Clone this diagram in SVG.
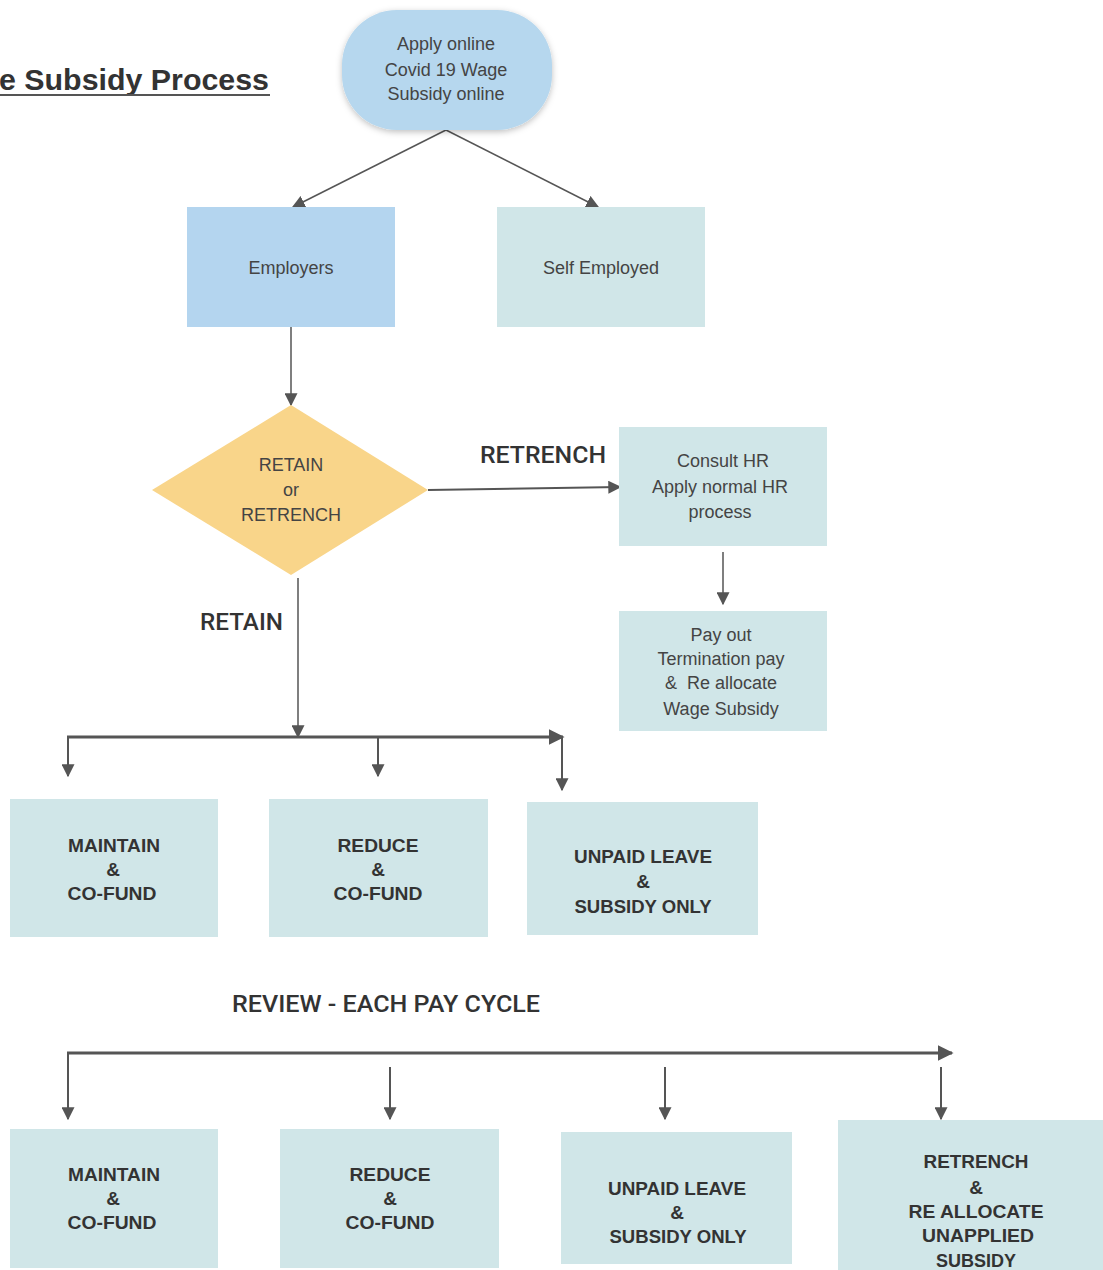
<svg xmlns="http://www.w3.org/2000/svg" width="1103" height="1270" viewBox="0 0 1103 1270">
<style>
.small{font-family:"Liberation Sans",Arial,sans-serif;font-size:18px;fill:#444;text-anchor:middle}
.bold{font-family:"Liberation Sans",Arial,sans-serif;font-size:19px;font-weight:bold;fill:#333;text-anchor:middle}
.lbl{font-family:Roboto,"Liberation Sans",sans-serif;font-size:24px;font-weight:500;fill:#333}
.blue{fill:#b4d5ef}
.teal{fill:#d0e6e8}
.ln{stroke:#555;fill:none}
</style>
<defs>
<marker id="ah" viewBox="0 0 10 10" refX="9" refY="5" markerWidth="13" markerHeight="13" markerUnits="userSpaceOnUse" orient="auto">
<path d="M0,0 L10,5 L0,10 z" fill="#555"/>
</marker>
<marker id="ahb" viewBox="0 0 10 10" refX="9" refY="5" markerWidth="16" markerHeight="16" markerUnits="userSpaceOnUse" orient="auto">
<path d="M0,0 L10,5 L0,10 z" fill="#555"/>
</marker>
<filter id="sh" x="-20%" y="-20%" width="140%" height="140%">
<feDropShadow dx="0" dy="2" stdDeviation="3" flood-color="#000" flood-opacity="0.25"/>
</filter>
</defs>

<g id="title">
<text x="-1" y="90" font-family="Liberation Sans,Arial,sans-serif" font-size="30" font-weight="bold" fill="#333" textLength="270" lengthAdjust="spacingAndGlyphs">e Subsidy Process</text>
<line x1="0" y1="95" x2="270" y2="95" stroke="#555" stroke-width="2"/>
</g>

<g id="connectors">
<line class="ln" stroke-width="1.5" x1="446" y1="130" x2="293" y2="207" marker-end="url(#ah)"/>
<line class="ln" stroke-width="1.5" x1="446" y1="130" x2="598" y2="207" marker-end="url(#ah)"/>
<line class="ln" stroke-width="1.5" x1="291" y1="327" x2="291" y2="405" marker-end="url(#ah)"/>
<line class="ln" stroke-width="2" x1="428" y1="490" x2="620" y2="487" marker-end="url(#ah)"/>
<line class="ln" stroke-width="1.5" x1="723" y1="552" x2="723" y2="604" marker-end="url(#ah)"/>
<line class="ln" stroke-width="1.5" x1="298" y1="578" x2="298" y2="737" marker-end="url(#ah)"/>
<line class="ln" stroke-width="3" x1="67" y1="737" x2="563" y2="737" marker-end="url(#ahb)"/>
<line class="ln" stroke-width="2" x1="68" y1="737" x2="68" y2="776" marker-end="url(#ah)"/>
<line class="ln" stroke-width="2" x1="378" y1="737" x2="378" y2="776" marker-end="url(#ah)"/>
<line class="ln" stroke-width="2" x1="562" y1="737" x2="562" y2="790" marker-end="url(#ah)"/>
<line class="ln" stroke-width="3" x1="67" y1="1053" x2="952" y2="1053" marker-end="url(#ahb)"/>
<line class="ln" stroke-width="2" x1="68" y1="1053" x2="68" y2="1119" marker-end="url(#ah)"/>
<line class="ln" stroke-width="2" x1="390" y1="1067" x2="390" y2="1119" marker-end="url(#ah)"/>
<line class="ln" stroke-width="2" x1="665" y1="1067" x2="665" y2="1119" marker-end="url(#ah)"/>
<line class="ln" stroke-width="2" x1="941" y1="1067" x2="941" y2="1119" marker-end="url(#ah)"/>
<text class="lbl" x="480" y="463" textLength="126" lengthAdjust="spacingAndGlyphs">RETRENCH</text>
<text class="lbl" x="200" y="630" textLength="83" lengthAdjust="spacingAndGlyphs">RETAIN</text>
<text class="lbl" x="232" y="1012" font-size="26" textLength="308" lengthAdjust="spacingAndGlyphs">REVIEW - EACH PAY CYCLE</text>
</g>

<g id="apply">
<rect x="342" y="10" width="210" height="120" rx="55" ry="55" fill="#b6d7ee" filter="url(#sh)"/>
<text class="small" x="446" y="50">Apply online</text>
<text class="small" x="446" y="76">Covid 19 Wage</text>
<text class="small" x="446" y="100">Subsidy online</text>
</g>

<g id="employers">
<rect class="blue" x="187" y="207" width="208" height="120"/>
<text class="small" x="291" y="274">Employers</text>
</g>

<g id="self-employed">
<rect class="teal" x="497" y="207" width="208" height="120"/>
<text class="small" x="601" y="274">Self Employed</text>
</g>

<g id="decision">
<polygon points="291,405 428,490 291,575 152,490" fill="#f9d58a"/>
<text class="small" x="291" y="471">RETAIN</text>
<text class="small" x="291" y="496">or</text>
<text class="small" x="291" y="521">RETRENCH</text>
</g>

<g id="consult-hr">
<rect class="teal" x="619" y="427" width="208" height="119"/>
<text class="small" x="723" y="467">Consult HR</text>
<text class="small" x="720" y="493">Apply normal HR</text>
<text class="small" x="720" y="518">process</text>
</g>

<g id="pay-out">
<rect class="teal" x="619" y="611" width="208" height="120"/>
<text class="small" x="721" y="641">Pay out</text>
<text class="small" x="721" y="665">Termination pay</text>
<text class="small" x="721" y="689" xml:space="preserve">&amp;  Re allocate</text>
<text class="small" x="721" y="715">Wage Subsidy</text>
</g>

<g id="maintain1">
<rect class="teal" x="10" y="799" width="208" height="138"/>
<text class="bold" x="114" y="852" textLength="92" lengthAdjust="spacingAndGlyphs">MAINTAIN</text>
<text class="bold" x="113" y="876">&amp;</text>
<text class="bold" x="112" y="900" textLength="89" lengthAdjust="spacingAndGlyphs">CO-FUND</text>
</g>

<g id="reduce1">
<rect class="teal" x="269" y="799" width="219" height="138"/>
<text class="bold" x="378" y="852" textLength="81" lengthAdjust="spacingAndGlyphs">REDUCE</text>
<text class="bold" x="378" y="876">&amp;</text>
<text class="bold" x="378" y="900" textLength="89" lengthAdjust="spacingAndGlyphs">CO-FUND</text>
</g>

<g id="unpaid1">
<rect class="teal" x="527" y="802" width="231" height="133"/>
<text class="bold" x="643" y="863" textLength="138" lengthAdjust="spacingAndGlyphs">UNPAID LEAVE</text>
<text class="bold" x="643" y="888">&amp;</text>
<text class="bold" x="643" y="913" textLength="137" lengthAdjust="spacingAndGlyphs">SUBSIDY ONLY</text>
</g>

<g id="maintain2">
<rect class="teal" x="10" y="1129" width="208" height="139"/>
<text class="bold" x="114" y="1181" textLength="92" lengthAdjust="spacingAndGlyphs">MAINTAIN</text>
<text class="bold" x="113" y="1205">&amp;</text>
<text class="bold" x="112" y="1229" textLength="89" lengthAdjust="spacingAndGlyphs">CO-FUND</text>
</g>

<g id="reduce2">
<rect class="teal" x="280" y="1129" width="219" height="139"/>
<text class="bold" x="390" y="1181" textLength="81" lengthAdjust="spacingAndGlyphs">REDUCE</text>
<text class="bold" x="390" y="1205">&amp;</text>
<text class="bold" x="390" y="1229" textLength="89" lengthAdjust="spacingAndGlyphs">CO-FUND</text>
</g>

<g id="unpaid2">
<rect class="teal" x="561" y="1132" width="231" height="132"/>
<text class="bold" x="677" y="1195" textLength="138" lengthAdjust="spacingAndGlyphs">UNPAID LEAVE</text>
<text class="bold" x="677" y="1219">&amp;</text>
<text class="bold" x="678" y="1243" textLength="137" lengthAdjust="spacingAndGlyphs">SUBSIDY ONLY</text>
</g>

<g id="retrench2">
<rect class="teal" x="838" y="1120" width="265" height="150"/>
<text class="bold" x="976" y="1168" textLength="105" lengthAdjust="spacingAndGlyphs">RETRENCH</text>
<text class="bold" x="976" y="1194">&amp;</text>
<text class="bold" x="976" y="1218" textLength="135" lengthAdjust="spacingAndGlyphs">RE ALLOCATE</text>
<text class="bold" x="978" y="1242" textLength="112" lengthAdjust="spacingAndGlyphs">UNAPPLIED</text>
<text class="bold" x="976" y="1267" textLength="80" lengthAdjust="spacingAndGlyphs">SUBSIDY</text>
</g>
</svg>
